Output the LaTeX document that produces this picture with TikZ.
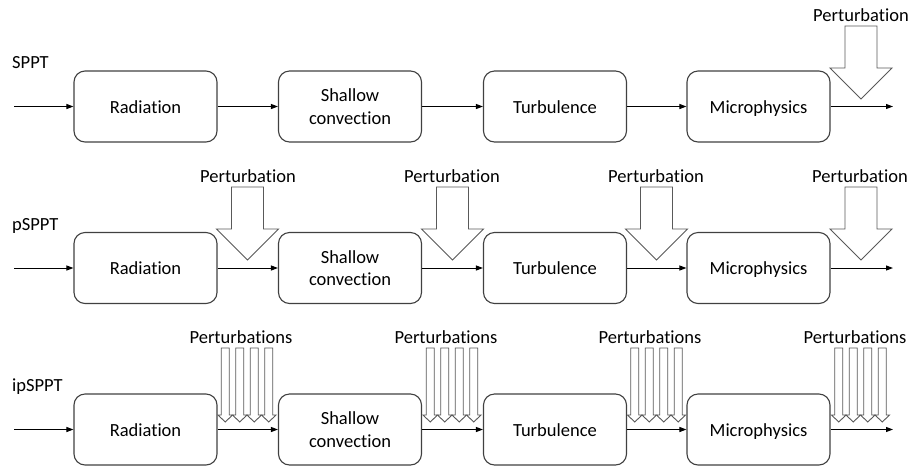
\documentclass[tikz,border=0pt]{standalone}
\usepackage{fontspec}
\setmainfont{Carlito}[Ligatures={NoCommon,NoRare}]
\usetikzlibrary{arrows.meta}
\begin{document}
\begin{tikzpicture}[x=1pt,y=-1pt,
  font=\fontsize{18.5}{22.5}\selectfont,
  box/.style={draw=black!75,line width=1.1pt,rounded corners=11pt,minimum width=143pt,minimum height=71pt,inner sep=0pt,align=center},
  oneline/.style={box,text height=13pt,text depth=0pt},
  conn/.style={draw=black,line width=1pt,-{Triangle[length=7pt,width=5pt]}},
  lab/.style={anchor=base,inner sep=0pt},
  rowlab/.style={anchor=base west,inner sep=0pt},
  outl/.style={draw=black!65,line width=0.9pt,fill=white,line join=miter},
  bigarr/.pic={\path[outl] (0,0) -- (31,-31) -- (16,-31) -- (16,-73) -- (-16,-73) -- (-16,-31) -- (-31,-31) -- cycle;},
  smallarr/.pic={\path[outl] (0,0) -- (7.25,-7) -- (4,-7) -- (4,-74) -- (-4,-74) -- (-4,-7) -- (-7.25,-7) -- cycle;},
  arrgroup/.pic={
    \pic at (-21.75,0) {smallarr};
    \pic at (-7.25,0) {smallarr};
    \pic at (7.25,0) {smallarr};
    \pic at (21.75,0) {smallarr};}
]
\useasboundingbox (0,0) rectangle (911,467);

% row labels
\node[rowlab] (l1) at (12,68) {SPPT};
\node[rowlab] (l2) at (12,230) {pSPPT};
\node[rowlab] (l3) at (12,391) {ipSPPT};

% ---------- row 1 ----------
\node[oneline] (r1) at (145.5,106.5) {Radiation};
\node[box] (s1) at (350,106.5) {Shallow\\convection};
\node[oneline] (t1) at (555,106.5) {Turbulence};
\node[oneline] (m1) at (758.5,106.5) {Microphysics};
\coordinate (in1) at (14,106.5);
\coordinate (out1) at (893,106.5);
\draw[conn] (in1) -- (r1);
\draw[conn] (r1) -- (s1);
\draw[conn] (s1) -- (t1);
\draw[conn] (t1) -- (m1);
\draw[conn] (m1) -- (out1);
\pic at (861,99) {bigarr};
\node[lab] (p1d) at (861,21) {Perturbation};

% ---------- row 2 ----------
\node[oneline] (r2) at (145.5,268) {Radiation};
\node[box] (s2) at (350,268) {Shallow\\convection};
\node[oneline] (t2) at (555,268) {Turbulence};
\node[oneline] (m2) at (758.5,268) {Microphysics};
\coordinate (in2) at (14,268);
\coordinate (out2) at (893,268);
\draw[conn] (in2) -- (r2);
\draw[conn] (r2) -- (s2);
\draw[conn] (s2) -- (t2);
\draw[conn] (t2) -- (m2);
\draw[conn] (m2) -- (out2);
\pic at (247.5,260) {bigarr};
\pic at (452.5,260) {bigarr};
\pic at (656.5,260) {bigarr};
\pic at (861,260) {bigarr};
\node[lab] (p2a) at (248,182) {Perturbation};
\node[lab] (p2b) at (452,182) {Perturbation};
\node[lab] (p2c) at (656,182) {Perturbation};
\node[lab] (p2d) at (860,182) {Perturbation};

% ---------- row 3 ----------
\node[oneline] (r3) at (145.5,429.5) {Radiation};
\node[box] (s3) at (350,429.5) {Shallow\\convection};
\node[oneline] (t3) at (555,429.5) {Turbulence};
\node[oneline] (m3) at (758.5,429.5) {Microphysics};
\coordinate (in3) at (14,429.5);
\coordinate (out3) at (893,429.5);
\draw[conn] (in3) -- (r3);
\draw[conn] (r3) -- (s3);
\draw[conn] (s3) -- (t3);
\draw[conn] (t3) -- (m3);
\draw[conn] (m3) -- (out3);
\pic at (247,422) {arrgroup};
\pic at (452,422) {arrgroup};
\pic at (656.5,422) {arrgroup};
\pic at (860.5,422) {arrgroup};
\node[lab] (p3a) at (241,343) {Perturbations};
\node[lab] (p3b) at (446,343) {Perturbations};
\node[lab] (p3c) at (650,343) {Perturbations};
\node[lab] (p3d) at (855,343) {Perturbations};
\end{tikzpicture}
\end{document}
